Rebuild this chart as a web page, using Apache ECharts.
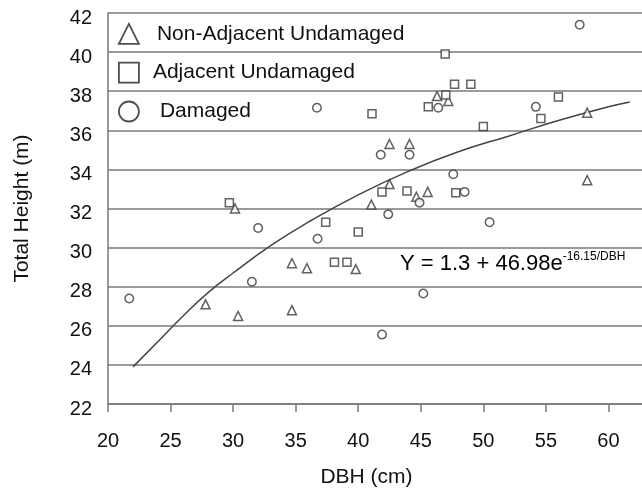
<!DOCTYPE html>
<html>
<head>
<meta charset="utf-8">
<script src="https://cdn.jsdelivr.net/npm/echarts@6/dist/echarts.min.js"></script>
<style>
html,body{margin:0;padding:0;background:#fff;}
#c{width:642px;height:491px;}
</style>
</head>
<body>
<div id="c"></div>
<script>
// Non-Adjacent Undamaged (triangles)
var triDBH = [27.8, 30.4, 30.15, 34.7, 34.7, 35.9, 39.8, 41.05, 42.5, 42.5, 44.1, 44.65, 45.55, 46.3, 47.2, 58.3, 58.3];
var triH   = [27.1, 26.5, 32.0, 29.2, 26.8, 28.95, 28.9, 32.2, 33.25, 35.3, 35.3, 32.6, 32.85, 37.75, 37.5, 36.9, 33.45];
// Adjacent Undamaged (squares)
var sqDBH = [29.7, 37.4, 38.1, 39.1, 40.0, 41.1, 41.9, 43.9, 45.6, 47.0, 46.95, 47.7, 49.0, 47.8, 50.0, 54.6, 56.0];
var sqH   = [32.3, 31.3, 29.25, 29.25, 30.8, 36.85, 32.85, 32.9, 37.2, 37.8, 39.9, 38.35, 38.35, 32.8, 36.2, 36.6, 37.7];
// Damaged (circles)
var ciDBH = [21.7, 31.5, 32.0, 36.75, 36.7, 41.8, 42.4, 41.9, 44.1, 44.9, 45.2, 46.4, 47.6, 48.5, 50.5, 54.2, 57.7];
var ciH   = [27.4, 28.25, 31.0, 30.45, 37.15, 34.75, 31.7, 25.55, 34.75, 32.3, 27.65, 37.15, 33.75, 32.85, 31.3, 37.2, 41.4];
// Fitted curve, points
var fitDBH = [22, 24, 26, 28, 30, 33, 36, 40, 44, 48, 52, 56, 60, 61.7];
var fitH   = [23.9, 25.2, 26.5, 27.7, 28.7, 30.1, 31.3, 32.7, 33.9, 34.9, 35.7, 36.5, 37.2, 37.45];
// Axis ranges
var xRange = [20, 65, 5];
var yRange = [22, 42, 2];
var legendNames = ['Non-Adjacent Undamaged', 'Adjacent Undamaged', 'Damaged'];
var equationMain = 'Y = 1.3 + 46.98e';
var equationSup = '-16.15/DBH';

function pairs(xs, ys) { return xs.map(function (x, i) { return [x, ys[i]]; }); }

var FONT = '"Liberation Sans", Arial, sans-serif';
var GRID = '#7a7a7a';
var MARK = '#3a3a3a';

var chart = echarts.init(document.getElementById('c'), null, {renderer: 'canvas'});
var markerStyle = {color: '#ffffff', borderColor: MARK, borderWidth: 1.5};

chart.setOption({
  animation: false,
  backgroundColor: '#ffffff',
  grid: {left: 108, top: 13, bottom: 87, right: -29, containLabel: false, outerBoundsMode: 'none'},
  xAxis: {
    type: 'value', min: xRange[0], max: xRange[1], interval: xRange[2],
    name: 'DBH (cm)', nameLocation: 'middle', nameGap: 63,
    nameTextStyle: {fontFamily: FONT, fontSize: 21, color: '#111', padding: [0, 46, 0, 0]},
    axisLine: {show: true, onZero: false, lineStyle: {color: GRID, width: 1.5}},
    axisTick: {show: true, length: 8, inside: false, lineStyle: {color: GRID, width: 1.5}},
    axisLabel: {fontFamily: FONT, fontSize: 20, color: '#111', margin: 27},
    splitLine: {show: false}
  },
  yAxis: {
    type: 'value', min: yRange[0], max: yRange[1], interval: yRange[2],
    name: 'Total Height (m)', nameLocation: 'middle', nameGap: 75, nameRotate: 90,
    nameTextStyle: {fontFamily: FONT, fontSize: 21, color: '#111'},
    axisLine: {show: true, lineStyle: {color: GRID, width: 1.5}},
    axisTick: {show: false},
    axisLabel: {fontFamily: FONT, fontSize: 20, color: '#111', margin: 16, verticalAlign: 'top', lineHeight: 10},
    splitLine: {show: true, lineStyle: {color: GRID, width: 1.5}}
  },
  legend: {
    orient: 'vertical', left: 118, top: 23, padding: 0,
    itemWidth: 20, itemHeight: 20, itemGap: 17,
    itemStyle: {color: '#ffffff', borderColor: '#222', borderWidth: 1.8},
    textStyle: {fontFamily: FONT, fontSize: 21, color: '#111', lineHeight: 20},
    data: [
      {name: legendNames[0], icon: 'triangle', textStyle: {padding: [0, 0, 0, 13]}},
      {name: legendNames[1], icon: 'rect', textStyle: {padding: [0, 0, 0, 9]}},
      {name: legendNames[2], icon: 'circle', textStyle: {padding: [0, 0, 0, 16]}}
    ]
  },
  graphic: [{
    type: 'text', left: 400, top: 251, silent: true,
    style: {
      text: '{a|' + equationMain + '}{b|' + equationSup + '}',
      rich: {
        a: {fontFamily: FONT, fontSize: 22, color: '#111', lineHeight: 26},
        b: {fontFamily: FONT, fontSize: 12, color: '#111', verticalAlign: 'top', lineHeight: 14}
      }
    }
  }],
  series: [
    {
      name: 'fit', type: 'line', data: pairs(fitDBH, fitH), smooth: true,
      showSymbol: false, symbol: 'none', z: 1,
      lineStyle: {color: '#444', width: 1.5}
    },
    {
      name: legendNames[0], type: 'scatter', symbol: 'triangle', symbolSize: 9,
      data: pairs(triDBH, triH), itemStyle: markerStyle, z: 3
    },
    {
      name: legendNames[1], type: 'scatter', symbol: 'rect', symbolSize: 8,
      data: pairs(sqDBH, sqH), itemStyle: markerStyle, z: 3
    },
    {
      name: legendNames[2], type: 'scatter', symbol: 'circle', symbolSize: 8.5,
      data: pairs(ciDBH, ciH), itemStyle: markerStyle, z: 3
    }
  ]
});
</script>
</body>
</html>
